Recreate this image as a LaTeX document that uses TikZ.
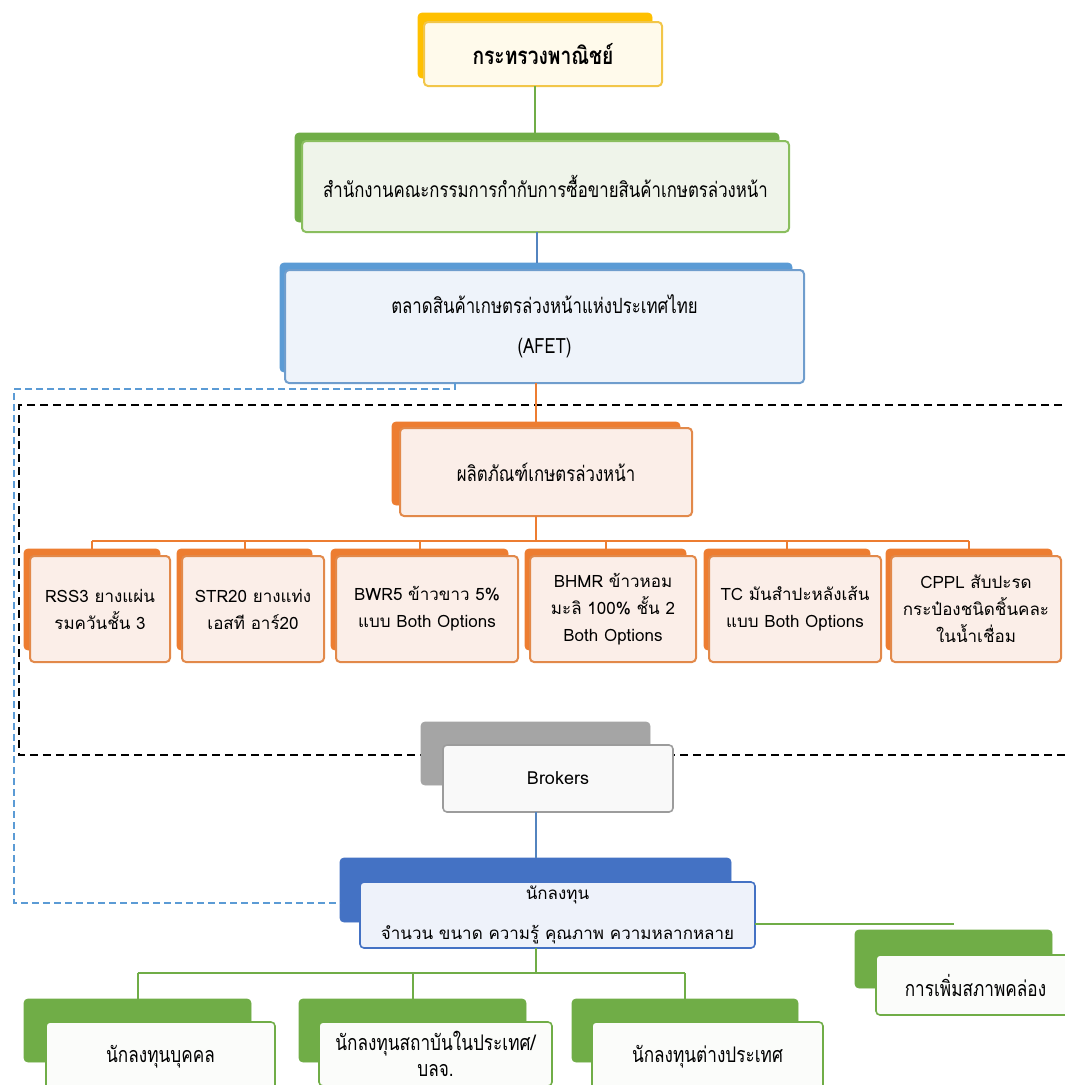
\documentclass[tikz,border=0pt]{standalone}
\usepackage{fontspec}
\setmainfont[Script=Thai]{Loma}
\newfontfamily\thc[Script=Thai,FakeStretch=0.8]{Loma}
\usetikzlibrary{calc}
\definecolor{yb}{HTML}{FFC000}
\definecolor{ybd}{HTML}{F2C649}
\definecolor{yfl}{HTML}{FFFAEB}
\definecolor{gb}{HTML}{70AD47}
\definecolor{gbd}{HTML}{8ABE5E}
\definecolor{gfl}{HTML}{EFF4EA}
\definecolor{bb}{HTML}{5B9BD5}
\definecolor{bbd}{HTML}{6F9DCD}
\definecolor{bfl}{HTML}{EEF3FA}
\definecolor{ob}{HTML}{ED7D31}
\definecolor{obd}{HTML}{E2894A}
\definecolor{ofl}{HTML}{FBEEE8}
\definecolor{grb}{HTML}{A5A5A5}
\definecolor{grd}{HTML}{9C9C9C}
\definecolor{grf}{HTML}{F9F9F9}
\definecolor{nb}{HTML}{4472C4}
\definecolor{nfl}{HTML}{EEF2FA}
\definecolor{wfl}{HTML}{FBFCFA}
\definecolor{lnb}{HTML}{5384BF}
\tikzset{
  bk/.style={fill=#1, draw=#1, line width=0.8pt, rounded corners=4pt, anchor=north west, inner sep=0pt, outer sep=0pt},
  fr/.style 2 args={fill=#2, draw=#1, line width=2pt, rounded corners=4pt, anchor=north west, inner sep=0pt, outer sep=0pt, align=center, text=black},
  tcond/.style={font=\thc\fontsize{21}{40}\selectfont},
  tnorm/.style={font=\fontsize{17}{27}\selectfont},
  tbot/.style={font=\thc\fontsize{21.5}{26}\selectfont},
  conn/.style={draw=#1, line width=2pt},
  bdash/.style={draw=bb, line width=2pt, dash pattern=on 7pt off 4pt},
  kdash/.style={draw=black, line width=2.6pt, dash pattern=on 8pt off 5pt},
}
\begin{document}
\begin{tikzpicture}[x=1pt,y=-1pt]
\useasboundingbox (0,0) rectangle (1065,1085);
% dashed frame behind everything
\draw[kdash] (1075,405) -- (19,405) -- (19,755) -- (1075,755);

% level 1
\node[bk=yb, minimum width=234, minimum height=65] (mocb) at (418,13) {};
\node[fr={ybd}{yfl}, minimum width=238, minimum height=64, font=\thc\bfseries\fontsize{24}{26}\selectfont] (moc) at (424,22) {กระทรวงพาณิชย์};
% level 2
\node[bk=gb, minimum width=484, minimum height=89] (ofcb) at (295,133) {};
\node[fr={gbd}{gfl}, minimum width=487, minimum height=91, tcond] (ofc) at (302,141) {สำนักงานคณะกรรมการกำกับการซื้อขายสินค้าเกษตรล่วงหน้า};
% level 3
\node[bk=bb, minimum width=512, minimum height=109] (afetb) at (280,263) {};
\node[fr={bbd}{bfl}, minimum width=519, minimum height=113, tcond] (afet) at (285,270) {ตลาดสินค้าเกษตรล่วงหน้าแห่งประเทศไทย\\(AFET)};
% level 4
\node[bk=ob, minimum width=288, minimum height=83] (prodb) at (392,422) {};
\node[fr={obd}{ofl}, minimum width=292, minimum height=88, tcond] (prod) at (400,428) {ผลิตภัณฑ์เกษตรล่วงหน้า};

% products
\node[bk=ob, minimum width=136, minimum height=101] (pab) at (24,549) {};
\node[fr={obd}{ofl}, minimum width=140, minimum height=106, tnorm] (pa) at (30,556) {RSS3 ยางแผ่น\\รมควันชั้น 3};
\node[bk=ob, minimum width=135, minimum height=101] (pbb) at (177,549) {};
\node[fr={obd}{ofl}, minimum width=142, minimum height=106, tnorm] (pb) at (182,556) {STR20 ยางแท่ง\\เอสที อาร์20};
\node[bk=ob, minimum width=177, minimum height=101] (pcb) at (331,549) {};
\node[fr={obd}{ofl}, minimum width=182, minimum height=106, tnorm] (pc) at (336,556) {BWR5 ข้าวขาว 5\%\\แบบ Both Options};
\node[bk=ob, minimum width=161, minimum height=101] (pdb) at (525,549) {};
\node[fr={obd}{ofl}, minimum width=166, minimum height=106, tnorm] (pd) at (530,556) {BHMR ข้าวหอม\\มะลิ 100\% ชั้น 2\\Both Options};
\node[bk=ob, minimum width=166, minimum height=101] (peb) at (704,549) {};
\node[fr={obd}{ofl}, minimum width=172, minimum height=106, tnorm] (pe) at (709,556) {TC มันสำปะหลังเส้น\\แบบ Both Options};
\node[bk=ob, minimum width=166, minimum height=101] (pfb) at (886,549) {};
\node[fr={obd}{ofl}, minimum width=170, minimum height=106, tnorm] (pf) at (891,556) {CPPL สับปะรด\\กระป๋องชนิดชิ้นคละ\\ในน้ำเชื่อม};

% brokers
\node[bk=grb, minimum width=229, minimum height=63] (brkb) at (421,722) {};
\node[fr={grd}{grf}, minimum width=230, minimum height=67, font=\fontsize{18}{22}\selectfont, line width=1.6pt] (brk) at (443,745) {Brokers};

% investors
\node[bk=nb, minimum width=391, minimum height=64] (invb) at (340,858) {};
\node[fr={nb}{nfl}, minimum width=395, minimum height=66, font=\fontsize{17}{40}\selectfont, line width=1.6pt] (inv) at (360,882) {นักลงทุน\\จำนวน ขนาด ความรู้ คุณภาพ ความหลากหลาย};

% liquidity
\node[bk=gb, minimum width=197, minimum height=58] (liqb) at (855,930) {};
\node[fr={gb}{wfl}, minimum width=199, minimum height=60, tbot, line width=1.6pt] (liq) at (876,955) {การเพิ่มสภาพคล่อง};

% investor types
\node[bk=gb, minimum width=227, minimum height=63] (indb) at (24,999) {};
\node[fr={gb}{wfl}, minimum width=229, minimum height=70, tbot, line width=1.6pt] (ind) at (46,1022) {นักลงทุนบุคคล};
\node[bk=gb, minimum width=227, minimum height=63] (instb) at (299,999) {};
\node[fr={gb}{wfl}, minimum width=233, minimum height=64, tbot, line width=1.6pt] (inst) at (319,1022) {นักลงทุนสถาบันในประเทศ/\\บลจ.};
\node[bk=gb, minimum width=226, minimum height=63] (forb) at (572,999) {};
\node[fr={gb}{wfl}, minimum width=231, minimum height=70, tbot, line width=1.6pt] (for) at (592,1022) {นักลงทุนต่างประเทศ};

% connectors
\draw[conn=gb] (mocb.south |- moc.south) -- (mocb.south |- ofcb.north);
\draw[conn=lnb] (ofcb.south |- ofc.south) -- (ofcb.south |- afetb.north);
\draw[conn=ob] (prodb.south |- afet.south) -- (prodb.north);
\coordinate (obus) at (536,541);
\draw[conn=ob] (prodb.south |- prod.south) -- (prodb.south |- obus);
\draw[conn=ob] (pab.north |- obus) -- (pfb.north |- obus);
\foreach \b in {pab,pbb,pcb,pdb,peb,pfb} \draw[conn=ob] (\b.north |- obus) -- (\b.north);
\draw[conn=lnb] (brkb.south |- brk.south) -- (brkb.south |- invb.north);
\coordinate (gbus) at (536,973);
\draw[conn=gb] (invb.south |- inv.south) -- (invb.south |- gbus);
\draw[conn=gb] (indb.north |- gbus) -- (forb.north |- gbus);
\foreach \b in {indb,instb,forb} \draw[conn=gb] (\b.north |- gbus) -- (\b.north);
\coordinate (liqc) at (954,924);
\draw[conn=gb] (inv.east |- liqc) -- (liqc);

% blue dashed loop
\coordinate (dtop) at (455,389);
\draw[bdash] (dtop |- afet.south) -- (dtop) -- (14,389) -- (14,903) -- (invb.west |- 0,903);
\end{tikzpicture}
\end{document}
